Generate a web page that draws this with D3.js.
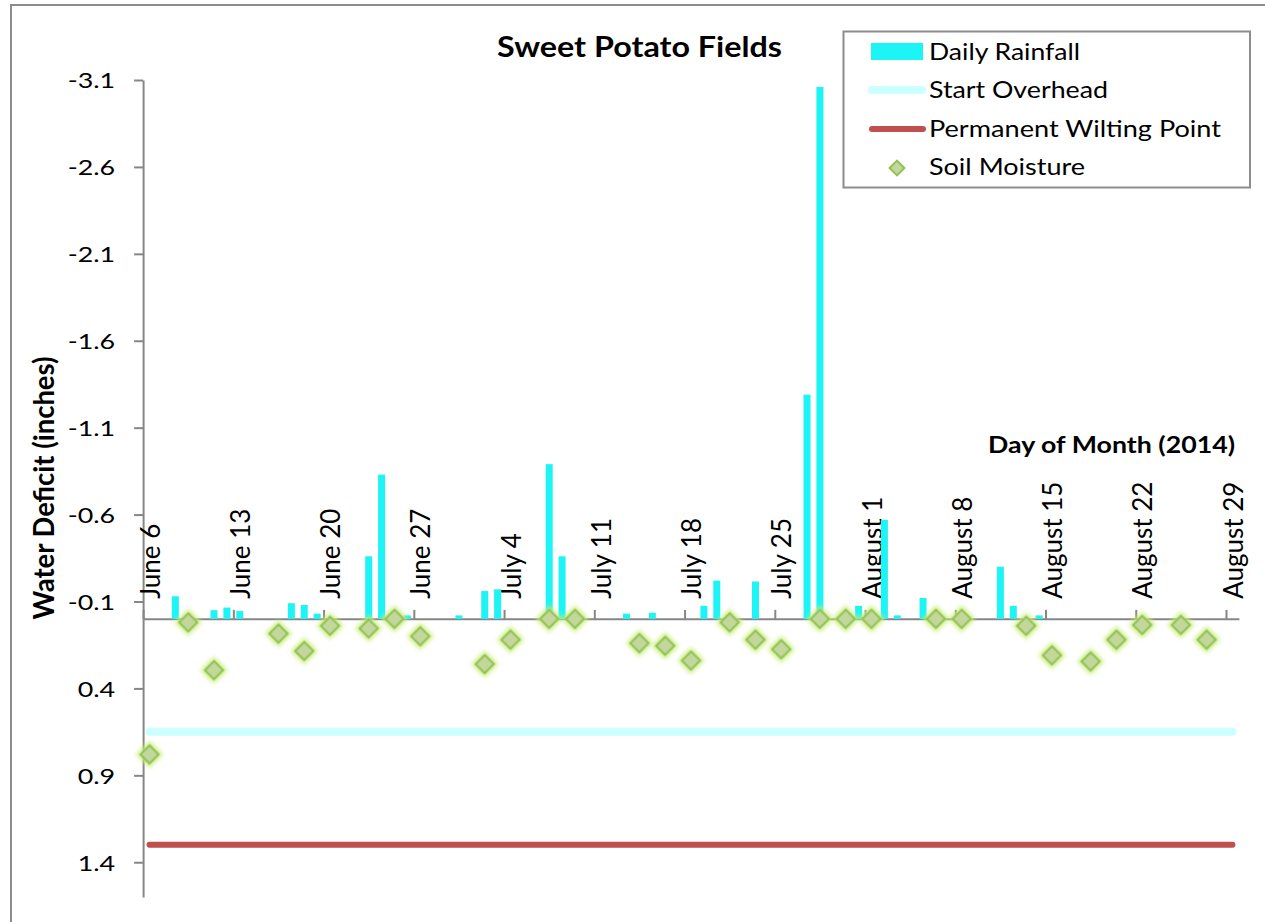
<!DOCTYPE html>
<html>
<head>
<meta charset="utf-8">
<script src="https://cdn.jsdelivr.net/npm/d3@7"></script>
<style>
  html, body { margin: 0; padding: 0; background: #ffffff; }
  svg { display: block; font-family: Lato, "Open Sans", sans-serif; }
</style>
</head>
<body>
<svg id="chart" width="1265" height="922"></svg>
<script>
// ---- Data -------------------------------------------------------------
// Daily rainfall (inches); plotted as a negative water deficit.
const rainDates = [
  "2014-06-08", "2014-06-11", "2014-06-12", "2014-06-13", "2014-06-17",
  "2014-06-18", "2014-06-19", "2014-06-23", "2014-06-24", "2014-06-26",
  "2014-06-30", "2014-07-02", "2014-07-03", "2014-07-07", "2014-07-08",
  "2014-07-13", "2014-07-15", "2014-07-19", "2014-07-20", "2014-07-23",
  "2014-07-27", "2014-07-28", "2014-07-31", "2014-08-02", "2014-08-03",
  "2014-08-05", "2014-08-11", "2014-08-12", "2014-08-14"
];
const rainValues = [
  0.13, 0.05, 0.065, 0.045, 0.09,
  0.08, 0.03, 0.36, 0.83, 0.02,
  0.02, 0.16, 0.17, 0.89, 0.36,
  0.03, 0.035, 0.075, 0.22, 0.215,
  1.29, 3.06, 0.075, 0.57, 0.02,
  0.12, 0.30, 0.075, 0.02
];

// Soil moisture readings as water deficit (inches).
const moistureDates = [
  "2014-06-06", "2014-06-09", "2014-06-11", "2014-06-16", "2014-06-18",
  "2014-06-20", "2014-06-23", "2014-06-25", "2014-06-27", "2014-07-02",
  "2014-07-04", "2014-07-07", "2014-07-09", "2014-07-14", "2014-07-16",
  "2014-07-18", "2014-07-21", "2014-07-23", "2014-07-25", "2014-07-28",
  "2014-07-30", "2014-08-01", "2014-08-06", "2014-08-08", "2014-08-13",
  "2014-08-15", "2014-08-18", "2014-08-20", "2014-08-22", "2014-08-25",
  "2014-08-27"
];
const moistureValues = [
  0.78, 0.02, 0.295, 0.085, 0.185,
  0.04, 0.055, 0.0, 0.10, 0.26,
  0.12, 0.0, 0.0, 0.14, 0.155,
  0.24, 0.02, 0.12, 0.175, 0.0,
  0.0, 0.0, 0.0, 0.0, 0.04,
  0.21, 0.245, 0.12, 0.035, 0.035,
  0.12
];

// Threshold levels (inches of deficit).
const startOverheadLevel = 0.65;
const wiltingPointLevel = 1.3;

// Axis ticks.
const xTickDates = [
  "2014-06-06", "2014-06-13", "2014-06-20", "2014-06-27", "2014-07-04",
  "2014-07-11", "2014-07-18", "2014-07-25", "2014-08-01", "2014-08-08",
  "2014-08-15", "2014-08-22", "2014-08-29"
];
const xTickLabels = [
  "June 6", "June 13", "June 20", "June 27", "July 4",
  "July 11", "July 18", "July 25", "August 1", "August 8",
  "August 15", "August 22", "August 29"
];
const yTicks = [-3.1, -2.6, -2.1, -1.6, -1.1, -0.6, -0.1, 0.4, 0.9, 1.4];
const yDomain = [-3.1, 1.6];
const firstDay = "2014-06-06";
const endDay = "2014-08-30";

// ---- Setup ------------------------------------------------------------
const parse = d3.utcParse("%Y-%m-%d");
const svg = d3.select("#chart");
const axisColor = "#868686";

const x = d3.scaleUtc().domain([parse(firstDay), parse(endDay)]).range([143.1, 1238.9]);
const y = d3.scaleLinear().domain(yDomain).range([80, 897]);
const dayCenter = s => x(d3.utcHour.offset(parse(s), 12));

const rain = rainDates.map((d, i) => ({ date: d, value: -rainValues[i] }));
const moisture = moistureDates.map((d, i) => ({ date: d, value: moistureValues[i] }));

// Scale a text's length by a factor relative to its natural width.
function stretch(sel, factor) {
  sel.each(function () {
    const w = this.getComputedTextLength();
    d3.select(this).attr("textLength", w * factor).attr("lengthAdjust", "spacingAndGlyphs");
  });
}
function fitWidth(sel, width) {
  sel.attr("textLength", width).attr("lengthAdjust", "spacingAndGlyphs");
}

// Glow used on soil moisture markers.
const defs = svg.append("defs");
const glow = defs.append("filter").attr("id", "glow")
  .attr("x", "-70%").attr("y", "-70%").attr("width", "240%").attr("height", "240%");
glow.append("feMorphology").attr("in", "SourceAlpha").attr("operator", "dilate").attr("radius", 2).attr("result", "dil");
glow.append("feGaussianBlur").attr("in", "dil").attr("stdDeviation", 2.2).attr("result", "blur");
glow.append("feFlood").attr("flood-color", "#c8ee78").attr("flood-opacity", 0.95);
glow.append("feComposite").attr("in2", "blur").attr("operator", "in").attr("result", "halo");
const merge = glow.append("feMerge");
merge.append("feMergeNode").attr("in", "halo");
merge.append("feMergeNode").attr("in", "SourceGraphic");

// Chart frame
svg.append("rect")
  .attr("x", 11).attr("y", 5).attr("width", 1300).attr("height", 960)
  .attr("fill", "none").attr("stroke", "#8c8c8c").attr("stroke-width", 2);

// ---- Axes -------------------------------------------------------------
const yAxis = svg.append("g")
  .attr("transform", `translate(${x.range()[0]},0)`)
  .call(d3.axisLeft(y).tickValues(yTicks).tickFormat(d => d.toFixed(1))
    .tickSize(9).tickSizeOuter(0).tickPadding(19));
yAxis.select(".domain").attr("stroke", axisColor).attr("stroke-width", 2);
yAxis.selectAll(".tick line").attr("stroke", axisColor).attr("stroke-width", 2);
yAxis.selectAll(".tick text")
  .attr("font-family", "Lato, sans-serif").attr("font-size", 22).attr("fill", "#000")
  .attr("dy", "0.36em")
  .call(stretch, 1.22);

const xAxis = svg.append("g")
  .attr("transform", `translate(0,${y(0)})`)
  .call(d3.axisTop(x).tickValues(xTickDates.map(parse))
    .tickFormat((d, i) => xTickLabels[i]).tickSize(9).tickSizeOuter(0));
xAxis.select(".domain").attr("stroke", axisColor).attr("stroke-width", 2);
xAxis.selectAll(".tick line").attr("stroke", axisColor).attr("stroke-width", 2);
xAxis.selectAll(".tick text")
  .attr("font-family", "Lato, sans-serif").attr("font-size", 26).attr("fill", "#000")
  .attr("text-anchor", "start")
  .attr("transform", "rotate(-90)")
  .attr("x", 20).attr("y", 16).attr("dy", null);

// ---- Series -----------------------------------------------------------
const barWidth = 7;
svg.append("g").selectAll("rect").data(rain).join("rect")
  .attr("x", d => dayCenter(d.date) - barWidth / 2)
  .attr("width", barWidth)
  .attr("y", d => Math.min(y(d.value), y(0)))
  .attr("height", d => Math.abs(y(d.value) - y(0)))
  .attr("fill", "#1cf4f6");

const lineDays = [firstDay, "2014-08-29"];
const levelLine = level => d3.line().x(d => dayCenter(d)).y(() => y(level))(lineDays);

svg.append("path").attr("d", levelLine(startOverheadLevel))
  .attr("fill", "none").attr("stroke", "#ccffff").attr("stroke-width", 8).attr("stroke-linecap", "round");
svg.append("path").attr("d", levelLine(wiltingPointLevel))
  .attr("fill", "none").attr("stroke", "#c0504d").attr("stroke-width", 6).attr("stroke-linecap", "round");

const diamond = d3.symbol().type(d3.symbolSquare).size(165);
svg.append("g").selectAll("path").data(moisture).join("path")
  .attr("d", diamond)
  .attr("transform", d => `translate(${dayCenter(d.date)},${y(d.value)}) rotate(45)`)
  .attr("fill", "#c3d69b").attr("stroke", "#8fc152").attr("stroke-width", 2)
  .attr("filter", "url(#glow)");

// ---- Titles -----------------------------------------------------------
svg.append("text")
  .attr("x", 639.5).attr("y", 57).attr("text-anchor", "middle")
  .attr("font-family", "Lato, sans-serif").attr("font-weight", 700).attr("font-size", 29)
  .text("Sweet Potato Fields").call(fitWidth, 285);

svg.append("text")
  .attr("transform", "translate(54,488) rotate(-90)").attr("text-anchor", "middle")
  .attr("font-family", "Lato, sans-serif").attr("font-weight", 700).attr("font-size", 29)
  .text("Water Deficit (inches)").call(fitWidth, 263);

svg.append("text")
  .attr("x", 1235).attr("y", 453).attr("text-anchor", "end")
  .attr("font-family", "Lato, sans-serif").attr("font-weight", 700).attr("font-size", 22)
  .text("Day of Month (2014)").call(fitWidth, 247);

// ---- Legend -----------------------------------------------------------
const legendItems = ["Daily Rainfall", "Start Overhead", "Permanent Wilting Point", "Soil Moisture"];
const legendWidths = [151, 179, 292, 156];
const legend = svg.append("g");
legend.append("rect")
  .attr("x", 843.5).attr("y", 31.5).attr("width", 406.5).attr("height", 156)
  .attr("fill", "#fff").attr("stroke", "#8c8c8c").attr("stroke-width", 2);

const rowY = i => 60 + i * 38.4;
legend.selectAll("text").data(legendItems).join("text")
  .attr("x", 929).attr("y", (d, i) => rowY(i))
  .attr("font-family", "Lato, sans-serif").attr("font-size", 24).attr("fill", "#000")
  .text(d => d)
  .each(function (d, i) { d3.select(this).call(fitWidth, legendWidths[i]); });

legend.append("rect").attr("x", 871).attr("y", 43).attr("width", 52).attr("height", 17).attr("fill", "#1cf4f6");
legend.append("line").attr("x1", 872).attr("x2", 922).attr("y1", 90).attr("y2", 90)
  .attr("stroke", "#ccffff").attr("stroke-width", 8).attr("stroke-linecap", "round");
legend.append("line").attr("x1", 872).attr("x2", 923).attr("y1", 129).attr("y2", 129)
  .attr("stroke", "#c0504d").attr("stroke-width", 6).attr("stroke-linecap", "round");
legend.append("path").attr("d", d3.symbol().type(d3.symbolSquare).size(110)())
  .attr("transform", "translate(897,168) rotate(45)")
  .attr("fill", "#c3d69b").attr("stroke", "#8fc152").attr("stroke-width", 2);
</script>
</body>
</html>
